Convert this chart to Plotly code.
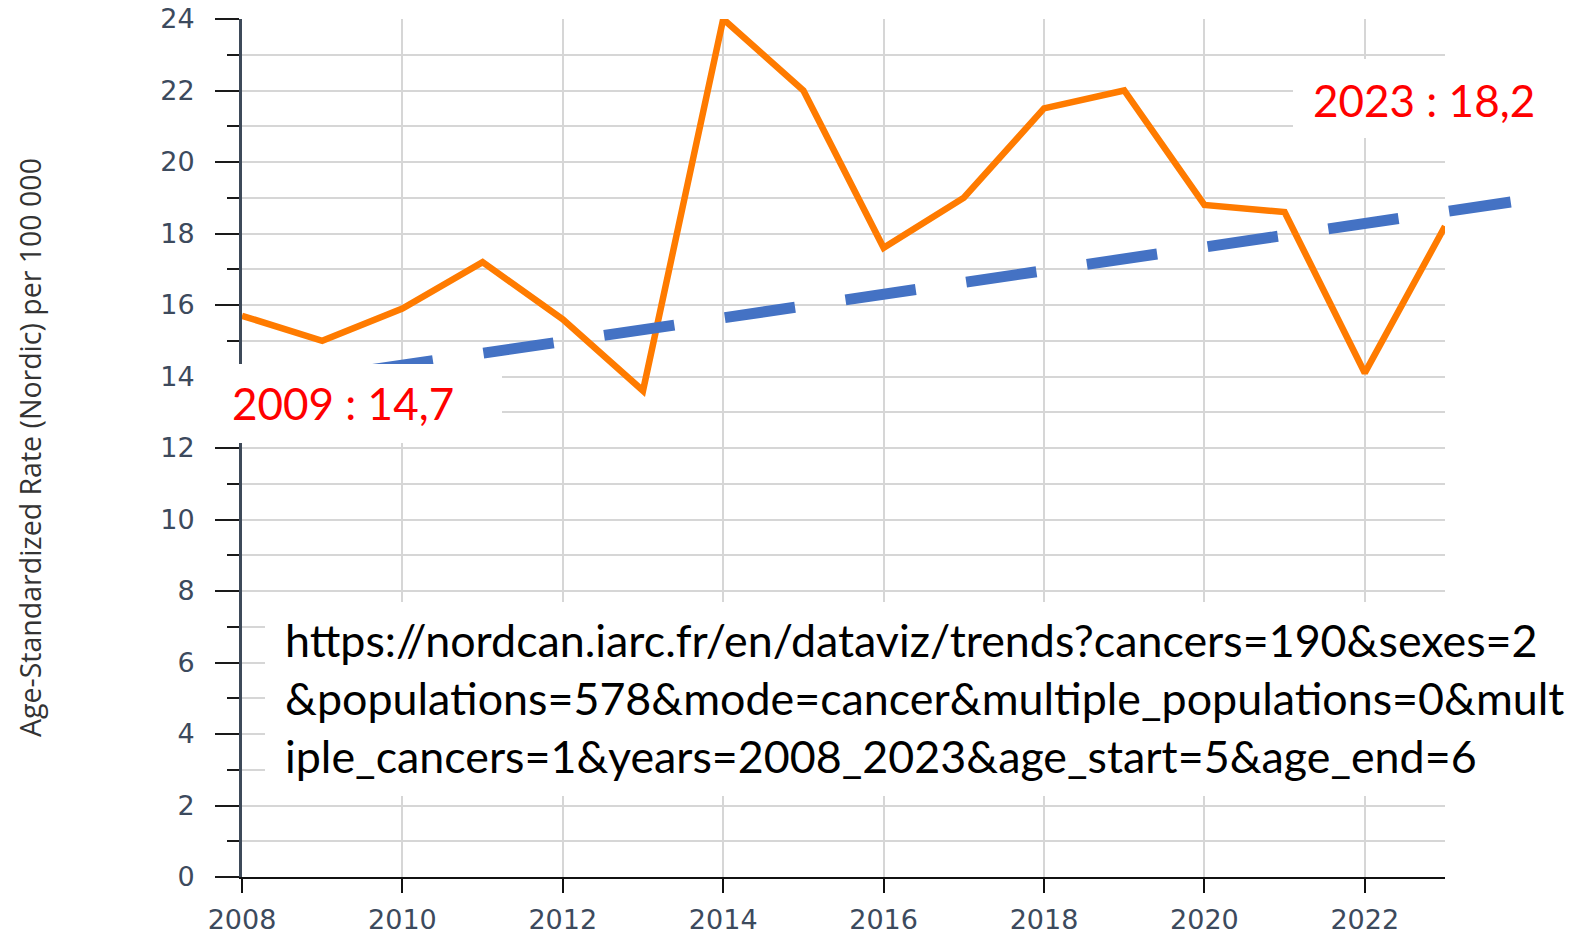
import plotly.graph_objects as go

# ---------------- data ----------------
years = [2008, 2009, 2010, 2011, 2012, 2013, 2014, 2015,
         2016, 2017, 2018, 2019, 2020, 2021, 2022, 2023]
rates = [15.7, 15.0, 15.9, 17.2, 15.6, 13.6, 24.0, 22.0,
         17.6, 19.0, 21.5, 22.0, 18.8, 18.6, 14.1, 18.2]

trend_years = [2008, 2023.82]
trend_rates = [13.66, 18.88]

y_ticks = [0, 2, 4, 6, 8, 10, 12, 14, 16, 18, 20, 22, 24]
x_ticks = [2008, 2010, 2012, 2014, 2016, 2018, 2020, 2022]

y_title = "Age-Standardized Rate (Nordic) per 100 000"
label_start = "2009 : 14,7"
label_end = "2023 : 18,2"
url_lines = [
    "https://nordcan.iarc.fr/en/dataviz/trends?cancers=190&sexes=2",
    "&populations=578&mode=cancer&multiple_populations=0&mult",
    "iple_cancers=1&years=2008_2023&age_start=5&age_end=6",
]

# ---------------- geometry ----------------
W, H = 1570, 935
L, R, T, B = 242, 10, 19, 58
Wp = W - L - R
Hp = H - T - B
main_w = 1203  # pixel width of the main x axis (2008 -> 2023)
x0, x1 = 2008, 2023
px_per_year = main_w / (x1 - x0)


def fx(p):
    return (p - L) / Wp


def fy(p):
    return (H - B - p) / Hp


tick_col = "#3c4a5d"
grid_col = "#d6d6d6"

fig = go.Figure()

fig.add_trace(go.Scatter(
    x=years, y=rates, mode="lines",
    line=dict(color="#ff7b00", width=6.5),
    xaxis="x", yaxis="y", showlegend=False, hoverinfo="skip",
))

fig.add_trace(go.Scatter(
    x=trend_years, y=trend_rates, mode="lines",
    line=dict(color="#4472c4", width=11, dash="71px,51px"),
    xaxis="x2", yaxis="y2", showlegend=False, hoverinfo="skip",
))

fig.update_layout(
    width=W, height=H,
    margin=dict(l=L, r=R, t=T, b=B, pad=0, autoexpand=False),
    paper_bgcolor="white",
    plot_bgcolor="rgba(0,0,0,0)",
    xaxis=dict(
        domain=[0, main_w / Wp], range=[x0, x1],
        tickvals=x_ticks, ticktext=[str(v) for v in x_ticks],
        showline=True, linecolor="#111111", linewidth=2,
        ticks="outside", ticklen=14, tickwidth=2, tickcolor="#111111",
        showgrid=True, gridcolor=grid_col, gridwidth=2,
        zeroline=False, automargin=False,
        tickfont=dict(family="DejaVu Sans", size=27, color=tick_col),
        ticklabelstandoff=4,
        anchor="y",
    ),
    yaxis=dict(
        domain=[0, 1], range=[0, 24],
        tickvals=y_ticks, ticktext=[str(v) for v in y_ticks],
        showline=True, linecolor="#3e4a59", linewidth=3,
        ticks="outside", ticklen=24, tickwidth=2, tickcolor="#1a1a1a",
        showgrid=True, gridcolor=grid_col, gridwidth=2,
        minor=dict(dtick=1, tick0=0, ticks="outside", ticklen=12,
                   tickwidth=2, tickcolor="#1a1a1a",
                   showgrid=True, gridcolor=grid_col, gridwidth=2),
        zeroline=False, automargin=False,
        tickfont=dict(family="DejaVu Sans", size=27, color=tick_col),
        ticklabelstandoff=15,
        anchor="x",
    ),
    xaxis2=dict(
        domain=[0, 1], range=[x0, x0 + Wp / px_per_year],
        visible=False, showgrid=False, zeroline=False, anchor="y2",
        automargin=False,
    ),
    yaxis2=dict(
        domain=[0, 1], range=[0, 24],
        visible=False, showgrid=False, zeroline=False, anchor="x2",
        automargin=False,
    ),
)

# white boxes behind the text labels
boxes = [
    (205, 364, 502, 443),
    (1293, 59, 1600, 138),
    (265, 602, 1600, 796),
]
for (bx0, by0, bx1, by1) in boxes:
    fig.add_shape(type="rect", xref="paper", yref="paper",
                  x0=fx(bx0), x1=fx(bx1), y0=fy(by1), y1=fy(by0),
                  fillcolor="white", line=dict(width=0), layer="above")

red_font = dict(family="Lato", size=44, color="#ff0000")
fig.add_annotation(text=label_start, xref="paper", yref="paper",
                   x=fx(230), y=fy(403), xanchor="left", yanchor="middle",
                   showarrow=False, font=red_font)
fig.add_annotation(text=label_end, xref="paper", yref="paper",
                   x=fx(1311), y=fy(100), xanchor="left", yanchor="middle",
                   showarrow=False, font=red_font)
fig.add_annotation(text="<br>".join(url_lines), xref="paper", yref="paper",
                   x=fx(283), y=fy(698), xanchor="left", yanchor="middle",
                   align="left", showarrow=False,
                   font=dict(family="Lato", size=44.8, color="#000000"))

fig.add_annotation(text=y_title, xref="paper", yref="paper",
                   x=fx(30), y=fy(448), xanchor="center", yanchor="middle",
                   textangle=-90, showarrow=False,
                   font=dict(family="Open Sans", size=28.5, color="#333333"))

fig.write_html("out.html",
               config={"displayModeBar": False},
               post_script="document.body.style.margin='0';"
                           "document.body.style.overflow='hidden';")
